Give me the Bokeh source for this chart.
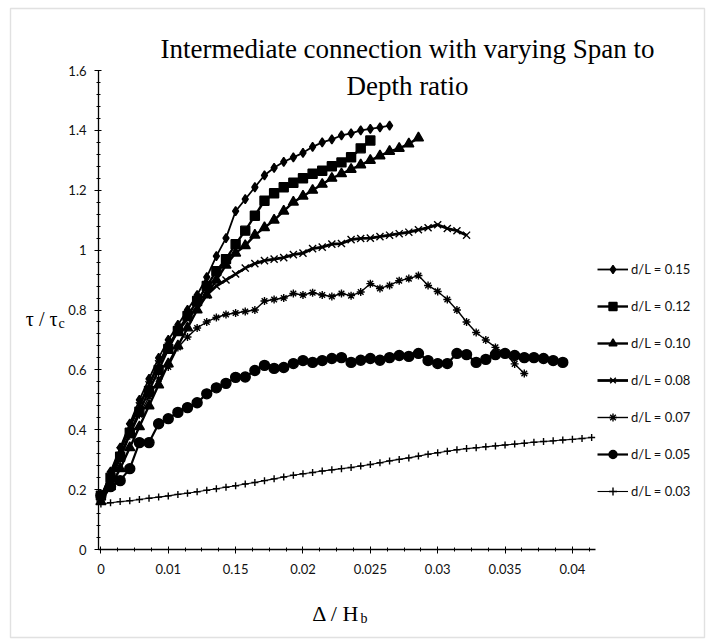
from bokeh.plotting import figure
from bokeh.models import Range1d, FixedTicker, Legend, LegendItem, Label, BoxAnnotation
from bokeh.embed import file_html
from bokeh.resources import INLINE

# ---------------- data ----------------
series_names = ["d/L = 0.15", "d/L = 0.12", "d/L = 0.10", "d/L = 0.08",
                "d/L = 0.07", "d/L = 0.05", "d/L = 0.03"]

y_d015 = [0.17, 0.26, 0.34, 0.42, 0.50, 0.57, 0.64, 0.70, 0.75, 0.80, 0.85, 0.91,
          0.98, 1.04, 1.13, 1.17, 1.21, 1.25, 1.275, 1.295, 1.31, 1.325, 1.345,
          1.36, 1.37, 1.383, 1.39, 1.40, 1.405, 1.41, 1.416]
y_d012 = [0.18, 0.24, 0.31, 0.39, 0.46, 0.53, 0.60, 0.67, 0.73, 0.78, 0.83, 0.88,
          0.93, 0.97, 1.02, 1.065, 1.115, 1.165, 1.19, 1.21, 1.225, 1.24, 1.255,
          1.265, 1.28, 1.293, 1.31, 1.34, 1.366]
y_d010 = [0.16, 0.21, 0.27, 0.34, 0.41, 0.48, 0.55, 0.62, 0.68, 0.74, 0.80, 0.85,
          0.90, 0.95, 0.99, 1.015, 1.05, 1.075, 1.10, 1.13, 1.16, 1.18, 1.20, 1.22,
          1.24, 1.255, 1.27, 1.285, 1.30, 1.315, 1.33, 1.34, 1.355, 1.375]
y_d008 = [0.17, 0.25, 0.33, 0.41, 0.48, 0.55, 0.62, 0.68, 0.73, 0.77, 0.81, 0.85,
          0.88, 0.90, 0.92, 0.94, 0.955, 0.965, 0.97, 0.975, 0.985, 0.99, 1.005,
          1.01, 1.02, 1.022, 1.035, 1.039, 1.04, 1.045, 1.05, 1.055, 1.06, 1.068,
          1.075, 1.085, 1.072, 1.065, 1.05]
y_d007 = [0.17, 0.23, 0.30, 0.38, 0.45, 0.51, 0.57, 0.61, 0.675, 0.71, 0.74, 0.76,
          0.775, 0.785, 0.79, 0.795, 0.80, 0.83, 0.835, 0.84, 0.855, 0.85, 0.858,
          0.85, 0.845, 0.855, 0.848, 0.86, 0.888, 0.872, 0.882, 0.898, 0.905, 0.915,
          0.882, 0.862, 0.835, 0.80, 0.76, 0.725, 0.70, 0.675, 0.655, 0.62, 0.588]
y_d005 = [0.18, 0.21, 0.23, 0.27, 0.357, 0.357, 0.42, 0.437, 0.458, 0.474, 0.49,
          0.52, 0.54, 0.555, 0.575, 0.576, 0.598, 0.615, 0.605, 0.608, 0.621, 0.631,
          0.625, 0.631, 0.638, 0.641, 0.625, 0.632, 0.638, 0.632, 0.641, 0.648,
          0.645, 0.655, 0.631, 0.621, 0.621, 0.655, 0.651, 0.625, 0.635, 0.651,
          0.655, 0.648, 0.641, 0.641, 0.638, 0.631, 0.625]
y_d003 = [0.152, 0.156, 0.160, 0.163, 0.167, 0.171, 0.175, 0.179, 0.184, 0.188,
          0.193, 0.198, 0.203, 0.208, 0.213, 0.219, 0.224, 0.230, 0.236, 0.242,
          0.248, 0.253, 0.257, 0.262, 0.266, 0.270, 0.274, 0.279, 0.284, 0.290,
          0.296, 0.301, 0.306, 0.312, 0.318, 0.323, 0.328, 0.333, 0.337, 0.340,
          0.343, 0.346, 0.349, 0.352, 0.355, 0.358, 0.361, 0.363, 0.366, 0.368,
          0.371, 0.374]

series_values = [y_d015, y_d012, y_d010, y_d008, y_d007, y_d005, y_d003]

# category positions of the printed x labels (Excel line-chart style axis)
x_tick_pos = [0, 7, 14, 21, 28, 35, 42, 49]
x_tick_labels = ["0", "0.01", "0.15", "0.02", "0.025", "0.03", "0.035", "0.04"]
y_tick_pos = [0, 0.2, 0.4, 0.6, 0.8, 1, 1.2, 1.4, 1.6]
y_tick_labels = ["0", "0.2", "0.4", "0.6", "0.8", "1", "1.2", "1.4", "1.6"]
x_axis_extent = (-0.25, 51.4)
y_axis_extent = (0, 1.6)

# ---------------- layout (pixels) ----------------
W, H = 712, 644
AX_L, AX_R, AX_T, AX_B = 98, 595, 70, 549      # axis box in the picture
sx = (AX_R - AX_L) / (x_axis_extent[1] - x_axis_extent[0])
sy = (AX_B - AX_T) / (y_axis_extent[1] - y_axis_extent[0])
xr0 = x_axis_extent[0] - AX_L / sx
yr0 = y_axis_extent[0] - (H - AX_B) / sy

# ---------------- styles ----------------
markers = ["diamond", "square", "triangle", "x", "asterisk", "circle", "cross"]
marker_sizes = [9, 9, 10, 10, 8, 10, 7]
line_widths = [1.8, 2.4, 2.4, 2.8, 1.4, 2.2, 1.1]

p = figure(width=W, height=H, output_backend="svg", toolbar_location=None,
           x_range=Range1d(xr0, xr0 + W / sx), y_range=Range1d(yr0, yr0 + H / sy),
           min_border=0)
p.title.visible = False
p.outline_line_color = None
p.grid.visible = False
p.background_fill_color = "white"
p.border_fill_color = "white"

x_minor = [i * 1.75 for i in range(30)]
y_minor = [round(i * 0.04, 2) for i in range(41)]
p.xaxis.ticker = FixedTicker(ticks=x_tick_pos, minor_ticks=x_minor)
p.xaxis.major_label_overrides = dict(zip(x_tick_pos, x_tick_labels))
p.yaxis.ticker = FixedTicker(ticks=y_tick_pos, minor_ticks=y_minor)
p.yaxis.major_label_overrides = dict(zip(y_tick_pos, y_tick_labels))
p.xaxis.fixed_location = y_axis_extent[0]
p.xaxis.bounds = x_axis_extent
p.yaxis.fixed_location = x_axis_extent[0]
p.yaxis.bounds = y_axis_extent

for ax in (p.xaxis[0], p.yaxis[0]):
    ax.axis_line_color = "black"
    ax.axis_line_width = 1.3
    ax.major_tick_line_color = "black"
    ax.minor_tick_line_color = "black"
    ax.major_tick_in = 3
    ax.major_tick_out = 4
    ax.minor_tick_in = 2
    ax.minor_tick_out = 2
    ax.major_label_text_font = "Lato"
    ax.major_label_text_font_size = "13px"
    ax.major_label_text_color = "#111111"
p.xaxis.major_label_standoff = 10
p.yaxis.major_label_standoff = 8

items = []
for name, ys, mk, ms, lw in zip(series_names, series_values, markers,
                                marker_sizes, line_widths):
    xs = list(range(len(ys)))
    lr = p.line(xs, ys, line_color="black", line_width=lw)
    sr = p.scatter(xs, ys, marker=mk, size=ms, fill_color="black",
                   line_color="black", line_width=1.4)
    items.append(LegendItem(label=name, renderers=[lr, sr]))

legend = Legend(items=items, location=(597, H - 501), orientation="vertical",
                glyph_width=31, glyph_height=20, label_height=20, spacing=17,
                padding=0, margin=0, label_standoff=3,
                border_line_color=None, background_fill_alpha=0,
                label_text_font="Lato", label_text_font_size="13px",
                label_text_color="#111111")
p.add_layout(legend)

# ---------------- texts ----------------
def lab(text, x, y, size, align="left", font="Liberation Serif"):
    p.add_layout(Label(x=x, y=H - y, x_units="screen", y_units="screen",
                       text=text, text_font=font, text_font_size=size,
                       text_align=align, text_baseline="alphabetic",
                       text_color="black"))

lab("Intermediate connection with varying Span to", 407, 48, "27px", "center")
lab("Depth ratio", 407, 85, "27px", "center")
lab("\u03c4 / \u03c4", 57, 318, "20px", "right")
lab("c", 58, 323, "14px", "left")
lab("\u0394 / H", 359, 613, "22px", "right")
lab("b", 360, 618, "14px", "left")

# outer chart border
p.add_layout(BoxAnnotation(left=10, right=704, bottom=H - 637, top=H - 8,
                           left_units="screen", right_units="screen",
                           bottom_units="screen", top_units="screen",
                           fill_alpha=0, line_color="#9a9a9a", line_width=1.4))

open("out.html", "w").write(file_html(p, INLINE))
